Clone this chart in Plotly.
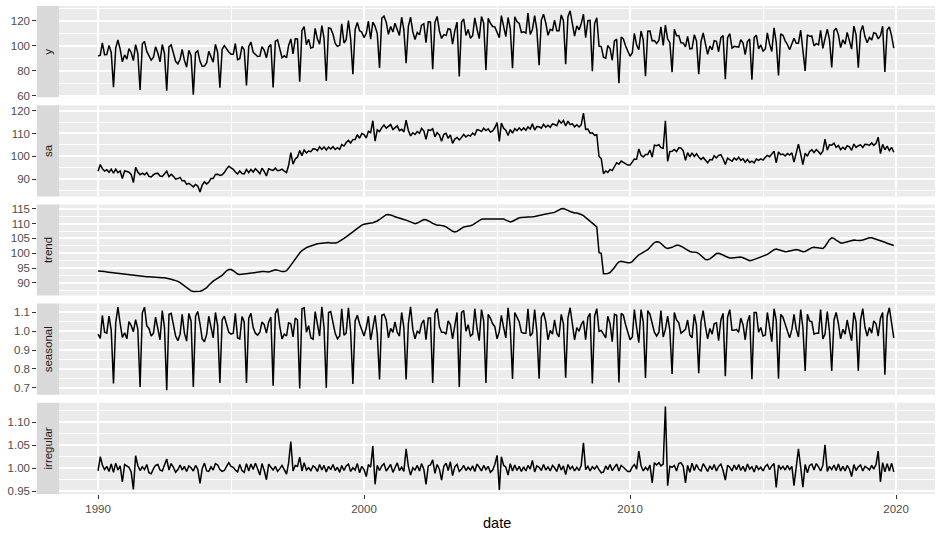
import pandas as pd
import plotly.graph_objects as go
from plotly.subplots import make_subplots

# ---------------- data (monthly, Jan 1990 - Dec 2019) ----------------
trend_rows = [
    [94.0, 94.0, 93.9, 93.8, 93.7, 93.6, 93.5, 93.4, 93.3, 93.2, 93.1, 93.0],
    [92.9, 92.9, 92.8, 92.8, 92.7, 92.6, 92.5, 92.4, 92.3, 92.2, 92.1, 92.1],
    [92.0, 92.0, 91.9, 91.8, 91.7, 91.7, 91.7, 91.6, 91.4, 91.2, 91.0, 90.8],
    [90.5, 90.1, 89.6, 89.0, 88.3, 87.7, 87.3, 87.1, 87.1, 87.1, 87.2, 87.4],
    [87.8, 88.4, 89.2, 90.0, 90.6, 91.1, 91.5, 91.9, 92.5, 93.3, 94.1, 94.5],
    [94.5, 94.1, 93.5, 93.0, 92.8, 92.9, 93.1, 93.3, 93.4, 93.4, 93.4, 93.5],
    [93.6, 93.7, 93.8, 93.8, 93.7, 93.7, 93.9, 94.2, 94.4, 94.3, 94.0, 93.8],
    [93.8, 94.1, 94.9, 96.0, 97.1, 98.2, 99.2, 100.1, 100.9, 101.5, 101.9, 102.2],
    [102.5, 102.8, 103.0, 103.2, 103.3, 103.4, 103.5, 103.6, 103.6, 103.5, 103.4, 103.5],
    [103.6, 104.0, 104.5, 105.0, 105.5, 106.0, 106.6, 107.2, 107.8, 108.4, 109.0, 109.5],
    [109.8, 110.0, 110.1, 110.2, 110.3, 110.5, 110.9, 111.4, 112.0, 112.6, 113.0, 113.1],
    [113.0, 112.7, 112.3, 112.0, 111.8, 111.6, 111.4, 111.2, 110.9, 110.6, 110.2, 110.0],
    [110.2, 110.7, 111.1, 111.4, 111.3, 111.0, 110.6, 110.1, 109.7, 109.5, 109.5, 109.4],
    [109.2, 108.9, 108.4, 107.9, 107.4, 107.2, 107.4, 107.9, 108.5, 108.9, 109.0, 109.1],
    [109.3, 109.6, 110.1, 110.7, 111.2, 111.5, 111.6, 111.6, 111.6, 111.6, 111.6, 111.6],
    [111.7, 111.8, 111.8, 111.6, 111.2, 110.8, 110.6, 110.8, 111.3, 111.8, 112.0, 112.1],
    [112.1, 112.1, 112.2, 112.2, 112.3, 112.4, 112.5, 112.7, 112.9, 113.1, 113.2, 113.3],
    [113.4, 113.5, 113.8, 114.2, 114.7, 115.0, 115.1, 114.9, 114.5, 114.1, 113.8, 113.6],
    [113.6, 113.4, 113.1, 112.7, 112.1, 111.5, 110.8, 110.0, 109.4, 108.9, 100.2, 100.0],
    [93.1, 93.1, 93.2, 93.5, 94.2, 95.2, 96.3, 97.1, 97.3, 97.1, 96.9, 96.8],
    [96.8, 97.2, 98.0, 98.9, 99.5, 99.9, 100.3, 100.6, 101.2, 102.0, 102.9, 103.6],
    [103.9, 103.8, 103.3, 102.6, 101.9, 101.6, 101.7, 102.0, 102.4, 102.7, 102.7, 102.4],
    [102.0, 101.5, 101.0, 100.6, 100.4, 100.4, 100.3, 99.9, 99.2, 98.5, 97.9, 97.8],
    [98.1, 98.7, 99.4, 99.9, 100.0, 99.8, 99.4, 99.0, 98.6, 98.4, 98.4, 98.5],
    [98.7, 98.8, 98.7, 98.5, 98.1, 97.7, 97.5, 97.6, 97.9, 98.2, 98.5, 98.7],
    [98.9, 99.2, 99.6, 100.1, 100.7, 101.2, 101.4, 101.2, 100.9, 100.6, 100.5, 100.6],
    [100.8, 101.1, 101.3, 101.3, 101.1, 100.8, 100.5, 100.6, 101.0, 101.5, 101.9, 102.0],
    [101.9, 101.7, 101.5, 101.6, 102.3, 103.4, 104.6, 105.2, 105.0, 104.4, 103.8, 103.5],
    [103.5, 103.7, 104.0, 104.3, 104.5, 104.5, 104.4, 104.3, 104.3, 104.5, 104.8, 105.1],
    [105.2, 105.2, 105.0, 104.8, 104.5, 104.3, 104.0, 103.7, 103.4, 103.1, 102.8, 102.6],
]

seasonal_rows = [
    [0.985, 0.962, 1.084, 0.995, 0.990, 1.081, 1.005, 0.723, 1.045, 1.129, 1.040, 0.968],
    [0.992, 0.960, 1.052, 1.030, 0.998, 1.062, 1.012, 0.705, 1.098, 1.128, 1.030, 1.015],
    [0.975, 0.990, 1.075, 1.020, 0.955, 1.110, 1.020, 0.687, 1.090, 1.095, 1.035, 0.975],
    [0.950, 0.985, 1.090, 0.990, 0.948, 1.095, 1.055, 0.705, 1.080, 1.105, 1.040, 0.960],
    [0.945, 0.985, 1.080, 1.015, 0.965, 1.100, 1.030, 0.726, 1.060, 1.080, 1.030, 0.995],
    [0.985, 0.990, 1.095, 0.965, 0.960, 1.078, 1.050, 0.726, 1.070, 1.095, 1.020, 0.990],
    [0.980, 0.995, 1.050, 1.035, 0.990, 1.050, 1.075, 0.711, 1.095, 1.120, 1.025, 0.960],
    [0.985, 0.975, 1.045, 1.040, 0.970, 1.070, 1.060, 0.696, 1.120, 1.125, 0.995, 1.030],
    [0.965, 0.958, 1.105, 1.030, 0.975, 1.130, 1.020, 0.700, 1.100, 1.105, 1.050, 0.990],
    [0.960, 0.975, 1.120, 0.980, 0.990, 1.125, 1.000, 0.721, 1.055, 1.085, 1.040, 1.010],
    [0.975, 1.020, 1.080, 0.955, 1.030, 1.085, 0.985, 0.744, 1.085, 1.090, 1.060, 0.965],
    [1.015, 0.995, 1.050, 0.995, 0.975, 1.100, 1.020, 0.744, 1.040, 1.130, 1.010, 0.960],
    [1.000, 0.990, 1.040, 1.060, 0.955, 1.070, 1.070, 0.726, 1.095, 1.120, 1.025, 0.995],
    [0.995, 0.985, 1.055, 1.035, 0.960, 1.045, 1.100, 0.705, 1.100, 1.110, 1.000, 1.035],
    [0.975, 0.985, 1.120, 1.015, 0.950, 1.115, 1.055, 0.726, 1.090, 1.070, 1.040, 1.025],
    [0.960, 1.000, 1.085, 1.020, 0.965, 1.125, 1.020, 0.747, 1.100, 1.075, 1.050, 0.995],
    [0.990, 0.990, 1.120, 0.975, 0.990, 1.115, 1.000, 0.749, 1.075, 1.100, 1.050, 0.955],
    [1.005, 0.985, 1.060, 0.990, 0.970, 1.090, 1.040, 0.754, 1.070, 1.125, 1.030, 0.955],
    [1.020, 1.000, 1.035, 1.055, 0.955, 1.075, 1.095, 0.723, 1.080, 1.120, 1.000, 1.005],
    [0.985, 0.965, 1.080, 1.040, 0.945, 1.090, 1.085, 0.728, 1.095, 1.085, 1.035, 0.990],
    [0.955, 0.970, 1.115, 1.020, 0.940, 1.115, 1.050, 0.752, 1.110, 1.090, 1.045, 0.995],
    [0.975, 0.995, 1.110, 0.970, 1.010, 1.080, 1.005, 0.774, 1.100, 1.060, 1.045, 0.990],
    [1.000, 1.010, 1.060, 0.980, 0.965, 1.090, 1.030, 0.777, 1.050, 1.110, 1.025, 0.960],
    [1.015, 0.985, 1.040, 1.045, 0.950, 1.060, 1.095, 0.762, 1.075, 1.115, 1.005, 1.005],
    [1.010, 0.995, 1.070, 1.035, 0.955, 1.050, 1.085, 0.746, 1.100, 1.100, 0.995, 1.020],
    [0.975, 0.980, 1.100, 1.015, 0.945, 1.120, 1.060, 0.749, 1.090, 1.075, 1.040, 1.000],
    [0.965, 1.010, 1.090, 1.010, 0.970, 1.115, 1.020, 0.789, 1.090, 1.055, 1.050, 0.985],
    [0.990, 0.990, 1.115, 0.960, 0.985, 1.105, 1.000, 0.789, 1.060, 1.100, 1.040, 0.960],
    [1.010, 0.985, 1.060, 1.000, 0.950, 1.100, 1.050, 0.789, 1.060, 1.120, 1.020, 0.975],
    [1.020, 0.990, 1.055, 1.040, 0.975, 1.070, 1.100, 0.770, 1.080, 1.125, 1.040, 0.965],
]

irregular_rows = [
    [0.994, 1.025, 1.007, 0.997, 1.004, 0.993, 1.009, 0.991, 1.011, 0.996, 1.005, 0.970],
    [1.008, 1.004, 1.002, 0.992, 0.954, 1.027, 1.006, 0.995, 1.003, 0.997, 1.008, 0.990],
    [0.988, 0.999, 1.006, 1.008, 0.996, 0.994, 1.005, 1.020, 0.996, 1.010, 1.002, 0.991],
    [0.997, 1.007, 0.996, 1.004, 0.993, 1.005, 1.001, 0.994, 1.006, 0.998, 0.967, 0.999],
    [1.011, 0.994, 0.993, 1.003, 0.996, 1.010, 1.007, 0.997, 0.993, 0.995, 1.004, 1.012],
    [1.004, 1.002, 0.996, 0.992, 1.008, 0.995, 0.991, 1.010, 0.994, 1.009, 0.997, 1.011],
    [0.999, 0.985, 1.010, 0.995, 0.975, 1.009, 1.002, 0.996, 1.004, 0.993, 0.999, 1.006],
    [0.997, 0.987, 1.011, 1.058, 0.994, 1.006, 1.004, 1.024, 0.994, 1.012, 0.996, 1.001],
    [0.995, 1.005, 1.002, 0.993, 1.008, 0.996, 1.006, 0.992, 1.004, 0.997, 1.008, 0.995],
    [1.002, 0.991, 1.006, 0.995, 1.005, 1.009, 0.993, 1.001, 0.996, 1.010, 0.990, 1.004],
    [0.997, 0.982, 1.008, 1.002, 1.048, 0.965, 1.006, 0.995, 1.005, 1.010, 0.994, 1.002],
    [1.008, 0.991, 1.003, 1.012, 0.995, 1.002, 0.993, 1.042, 1.004, 0.985, 1.001, 0.996],
    [1.006, 0.994, 1.010, 0.998, 0.965, 1.005, 1.007, 1.018, 0.989, 1.008, 0.998, 0.974],
    [1.004, 1.011, 0.995, 1.014, 0.984, 1.003, 1.008, 0.993, 0.998, 1.006, 0.995, 1.002],
    [0.996, 1.005, 0.993, 1.009, 1.002, 0.994, 1.006, 0.997, 1.004, 0.991, 0.996, 1.008],
    [1.028, 0.953, 1.025, 1.006, 1.002, 0.985, 1.010, 0.994, 1.007, 0.995, 1.004, 0.993],
    [1.003, 0.994, 1.006, 0.998, 1.017, 0.992, 1.005, 1.002, 0.995, 1.008, 0.996, 1.003],
    [0.994, 1.006, 1.001, 0.993, 1.009, 0.996, 1.005, 0.986, 1.008, 0.998, 1.004, 0.994],
    [1.002, 0.995, 1.006, 1.055, 0.997, 1.004, 0.994, 1.003, 0.998, 1.005, 0.997, 0.990],
    [0.992, 1.005, 0.997, 1.008, 0.995, 1.003, 1.009, 0.994, 1.006, 1.002, 0.997, 0.993],
    [0.993, 1.003, 1.008, 0.998, 1.037, 1.005, 0.994, 1.002, 0.996, 1.007, 0.968, 1.012],
    [1.007, 1.012, 1.005, 1.009, 1.134, 0.962, 1.004, 1.002, 1.006, 0.994, 1.010, 1.012],
    [1.004, 0.968, 1.006, 0.991, 1.011, 0.995, 1.008, 0.998, 0.994, 1.010, 1.002, 0.993],
    [1.005, 0.997, 1.008, 0.994, 1.004, 1.009, 0.995, 0.974, 1.006, 1.002, 0.994, 1.007],
    [0.997, 1.008, 0.995, 1.004, 0.993, 1.009, 0.998, 1.003, 0.992, 1.006, 0.997, 1.002],
    [0.994, 1.004, 1.008, 0.997, 1.005, 1.010, 0.958, 1.007, 0.998, 1.004, 0.996, 1.006],
    [0.997, 1.004, 0.962, 0.998, 1.042, 1.002, 0.959, 1.008, 0.990, 1.006, 1.009, 0.996],
    [1.010, 1.003, 0.994, 1.006, 1.051, 0.993, 1.004, 0.997, 1.007, 0.995, 1.009, 0.994],
    [1.004, 0.994, 1.006, 0.998, 0.982, 1.008, 0.995, 1.003, 1.007, 0.994, 1.004, 1.001],
    [0.996, 1.006, 0.998, 1.008, 1.037, 0.970, 1.012, 0.992, 1.010, 0.994, 1.011, 0.992],
]

panel_names = ["y", "sa", "trend", "seasonal", "irregular"]
x_tick_labels = ["1990", "2000", "2010", "2020"]
y_tick_labels = {
    "y": ["60", "80", "100", "120"],
    "sa": ["90", "100", "110", "120"],
    "trend": ["90", "95", "100", "105", "110", "115"],
    "seasonal": ["0.7", "0.8", "0.9", "1.0", "1.1"],
    "irregular": ["0.95", "1.00", "1.05", "1.10"],
}
y_minor = {
    "y": [70, 90, 110, 130],
    "sa": [85, 95, 105, 115],
    "trend": [87.5, 92.5, 97.5, 102.5, 107.5, 112.5],
    "seasonal": [0.75, 0.85, 0.95, 1.05],
    "irregular": [0.975, 1.025, 1.075, 1.125],
}

# ---------------- assemble series ----------------
dates = pd.date_range("1990-01-01", periods=360, freq="MS")
trend = [v for row in trend_rows for v in row]
seasonal = [v for row in seasonal_rows for v in row]
irregular = [v for row in irregular_rows for v in row]
sa = [t * i for t, i in zip(trend, irregular)]
y = [s * f for s, f in zip(sa, seasonal)]
series = {"y": y, "sa": sa, "trend": trend, "seasonal": seasonal, "irregular": irregular}

y_ranges = {
    "y": [59.0, 132.0],
    "sa": [82.4, 122.4],
    "trend": [85.7, 116.5],
    "seasonal": [0.663, 1.147],
    "irregular": [0.944, 1.142],
}

# ---------------- layout geometry ----------------
W, H = 940, 537
ML, MR, MT, MB = 36, 5, 6, 43
PW = W - ML - MR
PH = H - MT - MB
panel_left_px = 59.3
x_dom0 = (panel_left_px - ML) / PW
h = 91.2
g = (PH - 5 * h) / 4

fig = make_subplots(rows=5, cols=1, shared_xaxes=True)

FONT = "Liberation Sans, Arial, Helvetica, sans-serif"
xr = ["1988-07-18", "2021-06-19"]
major_x = ["1990-01-01", "2000-01-01", "2010-01-01", "2020-01-01"]
minor_x = ["1995-01-01", "2005-01-01", "2015-01-01"]

shapes = []
annotations = []
for k, name in enumerate(panel_names):
    r = k + 1
    fig.add_trace(
        go.Scatter(x=dates, y=series[name], mode="lines",
                   line=dict(color="black", width=1.5), showlegend=False,
                   hoverinfo="skip"),
        row=r, col=1)
    top_px = k * (h + g)
    d1 = 1 - top_px / PH
    d0 = 1 - (top_px + h) / PH
    xa = "xaxis" if r == 1 else f"xaxis{r}"
    ya = "yaxis" if r == 1 else f"yaxis{r}"
    fig.layout[xa].update(
        domain=[x_dom0, 1], range=xr, showgrid=True, gridcolor="white", gridwidth=1.6,
        tickmode="array", tickvals=major_x, ticktext=x_tick_labels,
        showticklabels=(r == 5), ticks="outside" if r == 5 else "",
        ticklen=3.7, tickwidth=1, tickcolor="#333333",
        tickfont=dict(family=FONT, size=11.5, color="#4D4D4D"),
        zeroline=False, showline=False,
        minor=dict(tickmode="array", tickvals=minor_x, showgrid=True,
                   gridcolor="white", gridwidth=0.8, ticks=""),
    )
    labels = y_tick_labels[name]
    fig.layout[ya].update(
        domain=[d0, d1], range=y_ranges[name], anchor="free", position=0,
        tickmode="array", tickvals=[float(v) for v in labels], ticktext=labels,
        ticks="outside", ticklen=3.7, tickwidth=1, tickcolor="#333333",
        tickfont=dict(family=FONT, size=11.5, color="#4D4D4D"),
        showgrid=True, gridcolor="white", gridwidth=1.6,
        zeroline=False, showline=False,
        minor=dict(tickmode="array", tickvals=y_minor[name], showgrid=True,
                   gridcolor="white", gridwidth=0.8, ticks=""),
    )
    # panel background
    shapes.append(dict(type="rect", xref="paper", yref="paper",
                       x0=x_dom0, x1=1, y0=d0, y1=d1,
                       fillcolor="#EBEBEB", line=dict(width=0), layer="below"))
    # strip
    shapes.append(dict(type="rect", xref="paper", yref="paper",
                       x0=0.001, x1=x_dom0, y0=d0, y1=d1,
                       fillcolor="#D9D9D9", line=dict(width=0), layer="below"))
    annotations.append(dict(xref="paper", yref="paper", x=x_dom0 / 2 + 0.0005,
                            y=(d0 + d1) / 2, text=name, showarrow=False,
                            textangle=-90, font=dict(family=FONT, size=11.5, color="#1A1A1A"),
                            xanchor="center", yanchor="middle"))

fig.layout["xaxis5"].update(
    title=dict(text="date", font=dict(family=FONT, size=14.5, color="black"), standoff=4))

fig.update_layout(
    width=W, height=H,
    margin=dict(l=ML, r=MR, t=MT, b=MB),
    paper_bgcolor="white", plot_bgcolor="rgba(0,0,0,0)",
    shapes=shapes, annotations=annotations,
    font=dict(family=FONT),
)

fig.write_html(
    "out.html",
    config={"responsive": False, "displayModeBar": False},
    post_script="document.body.style.margin='0';document.body.style.overflow='hidden';",
)
